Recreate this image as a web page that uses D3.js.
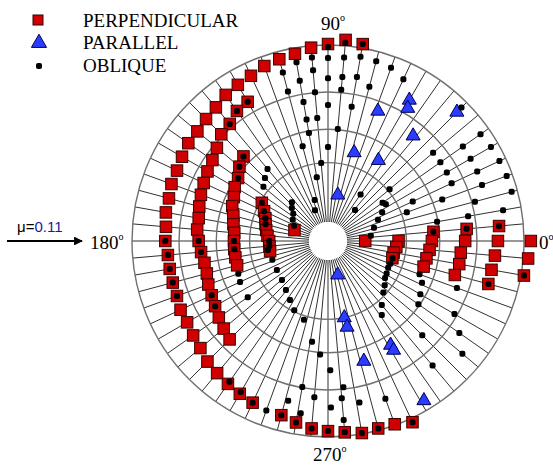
<!DOCTYPE html>
<html>
<head>
<meta charset="utf-8">
<script src="https://cdn.jsdelivr.net/npm/d3@7"></script>
<style>
  body { margin: 0; background: #fff; }
  svg { display: block; }
</style>
</head>
<body>
<svg id="chart" width="553" height="465"></svg>
<script>
// Polar readings: [angle in degrees, radius in % of outer ring]
const perpendicular = [
  [80,102],[85,103],[90,100.5],[95,99],[100,97],[105,96],[110,95],[115,93],[120,92],[125,91],
  [130,89],[135,88],[140,87],[145,87],[150,86],[155,85],[160,85],[165,84],[170,84],[175,83],
  [180,83],[185,82],[190,82],[195,82],[200,82],[205,83],[210,83],[215,84],[220,85],[225,87],
  [230,88],[235,89],[240,90],[245,91],[255,92],[260,94],[265,96],[270,97],[275,98],[280,99.5],
  [285,99],[290,99.5],[295,102],[350,101.5],[355,102.5],[0,103.5],
  [120,82],[125,81],[130,78],[135,77],[140,74],[145,72],[150,71],[155,70],[160,69],[165,68],
  [170,67],[175,67],[180,66],[185,65],[190,64],[195,64],[200,65],[205,65.5],[210,66.5],
  [215,68],[220,69.5],[225,71],
  [135,61],[140,59],[145,56],[150,55],[155,53],[160,52],[165,50],[170,49],[175,48],[180,48],
  [185,48],[190,48],[195,48],
  [150,39],[155,36],[160,34],[165,33],[170,32],[175,31],[180,30],[185,30],[190,30],
  [162,18],[0,19],
  [5,87.6],[0,86.7],[355,85.5],[350,84.7],[345,84.7],
  [5,71],[0,70],[355,68],[350,68],[345,67],
  [5,54],[0,53],[355,52],[350,51],[345,50.5],
  [0,36],[355,35],[350,34],[345,34]
];

const parallel = [
  [69,71],[60,83],[59,79],[45,93],[51,69],[73.5,47],[58,48.5],[78,24],
  [286,18],[282,40],[282.5,45],[301,62],[301,65],[286.6,64],[301,95]
];

const oblique = [
  // upper sector
  [105,89],[100,92.6],[95,94],[90,93.4],[85,94],[80,95.5],[75,95],[70,94],[65,91],
  [90,99],[85,101.5],[80,102],[45,96.3],
  [105,79],[100,83],[90,83],[85,84],[80,85],[75,81.5],
  [95,87.5],[85,77.4],[95,76.2],[100,72],[90,69.4],[80,69.5],[95,63],[100,63],
  [85,57.4],[100,56],[90,48],[105,50],[95,40],[100,33],[108,22],[113,17],[49,21],[55,29],
  // right sector
  [35,95],[30,96],[25,96.5],[20,97],[35,84],[30,84],[25,84],[40,70],[35,70],[30,70],
  [25,69.6],[20,83.6],[15,97],[25,47.7],[20,62],[15,77.6],[10,90.7],[35,34],[40,41],
  [20,42.8],[10,56.5],[10,72.6],[5,87.6],[5,71],[5,54],[340,49.7],[340,70],[345,84.7],[350,101.5],
  [7,22],[16,24.4],[23,27.7],[28,31.3],[32.5,35],
  [345,34],[340,33.8],[336,33.6],[331,34.2],[327,34.7],
  // lower sector
  [322,36.7],[317,38.6],[310,42.7],[306,46.7],[336,52.5],[330,54.4],[325,56.3],[330,74.5],
  [315,68],[325,81.8],[310,83],[320,89.5],[290,85.6],
  [253,42],[261,52],[266,58],[271,66],[276,75],[281,84],[285,99],
  [260,75.6],[265,80],[271,85],[275,91.7],
  [235,87.6],[240,89],[250,92],[256,84],[261,89],[275,80.5],
  [245,91],[255,92],[260,94],[265,96],[270,97],[275,98],[280,99.5],[295,102],
  // left sector
  [130,48],[135,45.5],[140,43],
  [133,27],[137.5,25],[142,22.5],[149,21],[156,19],
  [188.5,31],[198.7,30],[209.6,30],[220.3,30.8],[229.4,33],[237.2,35.8],[244,39.3],
  [200,48.7],[205,49.5],[215,50],
  [180,83],[185,82],[190,82],[195,82],[200,82],
  [120,82],[125,81],[130,78],[135,61],[140,59],[145,56],
  [150,39],[155,36],[160,34],[165,33],
  [180,66],[185,65],[205,65.5],[210,66.5],[180,48],[185,48],[180,30],[185,30]
];

const ringValues = [40, 57, 76, 100];
const holeValue = 9.7;
const spokeAngles = d3.range(0, 360, 5);
const angleLabels = [
  { a: 90, t: "90" }, { a: 180, t: "180" }, { a: 0, t: "0" }, { a: 270, t: "270" }
];

const svg = d3.select("#chart");
const cx = 328, cy = 241;
const r = d3.scaleLinear().domain([0, 100]).range([0, 196]);
const ang = d3.scaleLinear().domain([0, 360]).range([0, 2 * Math.PI]);

const px = d => cx + r(d[1]) * Math.cos(ang(d[0]));
const py = d => cy - r(d[1]) * Math.sin(ang(d[0]));

const g = svg.append("g");

// spokes
g.selectAll("line.spoke").data(spokeAngles).join("line")
  .attr("class", "spoke")
  .attr("x1", a => px([a, holeValue])).attr("y1", a => py([a, holeValue]))
  .attr("x2", a => px([a, 100])).attr("y2", a => py([a, 100]))
  .attr("stroke", "#1a1a1a").attr("stroke-width", 0.9);

// rings
g.selectAll("circle.ring").data(ringValues).join("circle")
  .attr("cx", cx).attr("cy", cy).attr("r", d => r(d))
  .attr("fill", "none").attr("stroke", "#707070").attr("stroke-width", 1.4);

g.append("circle").attr("cx", cx).attr("cy", cy).attr("r", r(holeValue))
  .attr("fill", "#fff");

// series
const sq = 11.5;
g.selectAll("rect.perp").data(perpendicular).join("rect")
  .attr("x", d => px(d) - sq / 2).attr("y", d => py(d) - sq / 2)
  .attr("width", sq).attr("height", sq)
  .attr("fill", "#d00000").attr("stroke", "#3a0000").attr("stroke-width", 1);

const tri = d3.symbol().type(d3.symbolTriangle).size(85);
g.selectAll("path.par").data(parallel).join("path")
  .attr("d", tri)
  .attr("transform", d => `translate(${px(d)},${py(d)})`)
  .attr("fill", "#2a3cff").attr("stroke", "#000050").attr("stroke-width", 1);

const dot = 6;
g.selectAll("rect.obl").data(oblique).join("rect")
  .attr("x", d => px(d) - dot / 2).attr("y", d => py(d) - dot / 2)
  .attr("width", dot).attr("height", dot).attr("rx", 2)
  .attr("fill", "#000");

// angle labels
const serif = "'Liberation Serif','Times New Roman',serif";
const labelPos = {
  90: { x: 321, y: 30 },
  180: { x: 90, y: 249 },
  0: { x: 539, y: 249 },
  270: { x: 313, y: 461 }
};
angleLabels.forEach(l => {
  const p = labelPos[l.a];
  const t = svg.append("text").attr("x", p.x).attr("y", p.y)
    .attr("font-family", serif).attr("font-size", 19).attr("fill", "#000");
  t.append("tspan").text(l.t);
  t.append("tspan").attr("font-size", 10).attr("dy", -9).text("o");
});

// legend
const legend = [
  { key: "PERPENDICULAR", y: 20 },
  { key: "PARALLEL", y: 42 },
  { key: "OBLIQUE", y: 65 }
];
svg.append("rect").attr("x", 33).attr("y", 15).attr("width", 10).attr("height", 10)
  .attr("fill", "#d00000").attr("stroke", "#3a0000");
svg.append("path").attr("d", d3.symbol().type(d3.symbolTriangle).size(100))
  .attr("transform", "translate(39,43)")
  .attr("fill", "#2a3cff").attr("stroke", "#000050");
svg.append("rect").attr("x", 36).attr("y", 63).attr("width", 6).attr("height", 6).attr("rx", 2).attr("fill", "#000");
svg.selectAll("text.leg").data(legend).join("text")
  .attr("x", 83).attr("y", d => d.y + 7)
  .attr("font-family", serif).attr("font-size", 19).attr("fill", "#000")
  .text(d => d.key);

// flow arrow
const defs = svg.append("defs");
defs.append("marker").attr("id", "ah").attr("viewBox", "0 0 10 10")
  .attr("refX", 9).attr("refY", 5).attr("markerWidth", 4).attr("markerHeight", 4)
  .attr("orient", "auto")
  .append("path").attr("d", "M0,0 L10,5 L0,10 Z").attr("fill", "#000");
svg.append("line").attr("x1", 7).attr("y1", 241).attr("x2", 82).attr("y2", 241)
  .attr("stroke", "#000").attr("stroke-width", 2.2).attr("marker-end", "url(#ah)");
const mu = svg.append("text").attr("x", 17).attr("y", 232)
  .attr("font-family", "'Liberation Sans',Arial,sans-serif").attr("font-size", 15);
mu.append("tspan").attr("fill", "#000").text("μ=");
mu.append("tspan").attr("fill", "#1a1aa0").text("0.11");
</script>
</body>
</html>
